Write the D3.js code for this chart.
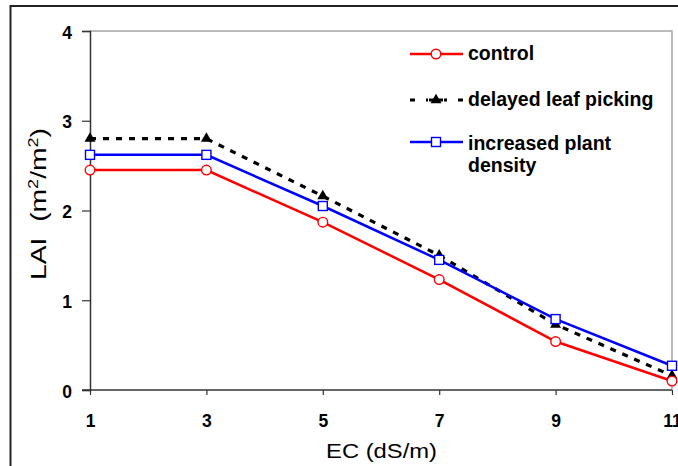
<!DOCTYPE html>
<html lang="en">
<head>
<meta charset="UTF-8">
<title>LAI vs EC</title>
<script src="https://d3js.org/d3.v7.min.js"></script>
<style>
  body { margin: 0; background: #fff; }
  text { font-family: "Liberation Sans", Arial, sans-serif; }
</style>
</head>
<body>
<script>
// data
var ecValues = [1, 3, 5, 7, 9, 11];
var controlLAI = [2.45, 2.45, 1.87, 1.23, 0.54, 0.10];
var delayedLAI = [2.80, 2.80, 2.16, 1.50, 0.73, 0.16];
var densityLAI = [2.62, 2.62, 2.05, 1.45, 0.79, 0.27];
var yTicks = [0, 1, 2, 3, 4];
var seriesNames = ["control", "delayed leaf picking", "increased plant density"];

var w = 678, h = 466;
var plotLeft = 90, plotRight = 672, plotTop = 31, plotBottom = 390;

var svg = d3.select("body").append("svg")
    .attr("width", w)
    .attr("height", h);

// outer frame (runs off the right and bottom edge)
svg.append("rect")
    .attr("x", 10.5).attr("y", 6)
    .attr("width", 720).attr("height", 520)
    .attr("fill", "none")
    .attr("stroke", "#222")
    .attr("stroke-width", 2);

var x = d3.scaleLinear().domain([1, 11]).range([plotLeft, plotRight]);
var y = d3.scaleLinear().domain([0, 4]).range([plotBottom, plotTop]);

// gray top and right border of the plot area
svg.append("path")
    .attr("d", "M" + plotLeft + "," + plotTop + "H" + plotRight + "V" + plotBottom)
    .attr("fill", "none")
    .attr("stroke", "#a6a6a6")
    .attr("stroke-width", 1.5);

// y axis
var yAxis = svg.append("g")
    .attr("transform", "translate(" + plotLeft + ",0)")
    .call(d3.axisLeft(y).tickValues(yTicks).tickSize(8).tickPadding(10).tickFormat(d3.format("d")));

// x axis
var xAxis = svg.append("g")
    .attr("transform", "translate(0," + plotBottom + ")")
    .call(d3.axisBottom(x).tickValues(ecValues).tickSize(5).tickPadding(20).tickFormat(d3.format("d")));

[yAxis, xAxis].forEach(function(g) {
    g.attr("font-size", 17.5).attr("font-weight", "bold")
        .attr("font-family", "'Liberation Sans', Arial, sans-serif");
    g.select(".domain").attr("stroke", "#333").attr("stroke-width", 1.5);
    g.selectAll(".tick line").attr("stroke", "#333").attr("stroke-width", 1.2);
    g.selectAll(".tick text").attr("fill", "#000");
});
xAxis.select(".domain").attr("d", "M" + (plotLeft - 8) + ",0H" + plotRight);
yAxis.selectAll(".tick text").attr("dy", "0.4em");
xAxis.selectAll(".tick text").attr("dy", "0.71em");

// axis titles, stretched to the width they have in the picture
var xTitle = svg.append("text")
    .attr("text-anchor", "middle")
    .style("font-size", "21px")
    .attr("fill", "#000")
    .text("EC (dS/m)");
var xs = 111 / xTitle.node().getComputedTextLength();
xTitle.attr("transform", "translate(381.5,458) scale(" + xs + ",1)");

var yTitle = svg.append("text")
    .attr("text-anchor", "middle")
    .style("font-size", "22px")
    .attr("fill", "#000");
yTitle.append("tspan").text("LAI\u00a0\u00a0(m");
yTitle.append("tspan").attr("baseline-shift", "super").style("font-size", "14px").text("2");
yTitle.append("tspan").text("/m");
yTitle.append("tspan").attr("baseline-shift", "super").style("font-size", "14px").text("2");
yTitle.append("tspan").text(")");
var ys = 152 / yTitle.node().getComputedTextLength();
yTitle.attr("transform", "translate(46,204) rotate(-90) scale(" + ys + ",1)");

// series
var series = [
    { name: seriesNames[0], values: controlLAI, color: "#ff0000", dash: null, marker: "circle" },
    { name: seriesNames[1], values: delayedLAI, color: "#000000", dash: "6,7", marker: "triangle" },
    { name: seriesNames[2], values: densityLAI, color: "#0000ff", dash: null, marker: "square" }
];

var line = d3.line()
    .x(function(d) { return x(d[0]); })
    .y(function(d) { return y(d[1]); });

function drawMarker(g, type, color) {
    if (type === "circle") {
        g.append("circle").attr("r", 4.8)
            .attr("fill", "#fff").attr("stroke", color).attr("stroke-width", 1.4);
    } else if (type === "square") {
        g.append("rect").attr("x", -4.5).attr("y", -4.5).attr("width", 9).attr("height", 9)
            .attr("fill", "#fff").attr("stroke", color).attr("stroke-width", 1.4);
    } else {
        g.append("path").attr("d", d3.symbol(d3.symbolTriangle, 52)())
            .attr("fill", color);
    }
}

// draw order: delayed first, then density, then control
[series[1], series[2], series[0]].forEach(function(s) {
    var pts = ecValues.map(function(e, i) { return [e, s.values[i]]; });
    svg.append("path")
        .datum(pts)
        .attr("d", line)
        .attr("fill", "none")
        .attr("stroke", s.color)
        .attr("stroke-width", s.dash ? 3.2 : 2.5)
        .attr("stroke-dasharray", s.dash);
});
[series[1], series[2], series[0]].forEach(function(s) {
    ecValues.forEach(function(e, i) {
        var g = svg.append("g").attr("transform", "translate(" + x(e) + "," + y(s.values[i]) + ")");
        drawMarker(g, s.marker, s.color);
    });
});

// legend
var legendY = [54, 100, 142];
var legend = svg.append("g");
series.forEach(function(s, i) {
    var g = legend.append("g").attr("transform", "translate(0," + legendY[i] + ")");
    g.append("line")
        .attr("x1", 410).attr("x2", 463)
        .attr("stroke", s.color)
        .attr("stroke-width", s.dash ? 3.2 : 2.5)
        .attr("stroke-dasharray", s.dash ? "5,11" : null);
    var m = g.append("g").attr("transform", "translate(436,0)");
    if (s.dash) {
        m.append("rect").attr("x", -8).attr("y", -4).attr("width", 16).attr("height", 8).attr("fill", "#fff");
        m.append("line").attr("x1", -7).attr("x2", 7).attr("stroke", "#000").attr("stroke-width", 3);
    }
    drawMarker(m, s.marker, s.color);
});
var legendText = svg.append("g")
    .style("font-size", "19.5px")
    .style("font-weight", "bold")
    .attr("fill", "#000");
legendText.append("text").attr("x", 468).attr("y", 60).text("control");
legendText.append("text").attr("x", 468).attr("y", 105.5).text("delayed leaf picking");
legendText.append("text").attr("x", 468).attr("y", 149.5).text("increased plant");
legendText.append("text").attr("x", 468).attr("y", 172).text("density");
</script>
</body>
</html>
